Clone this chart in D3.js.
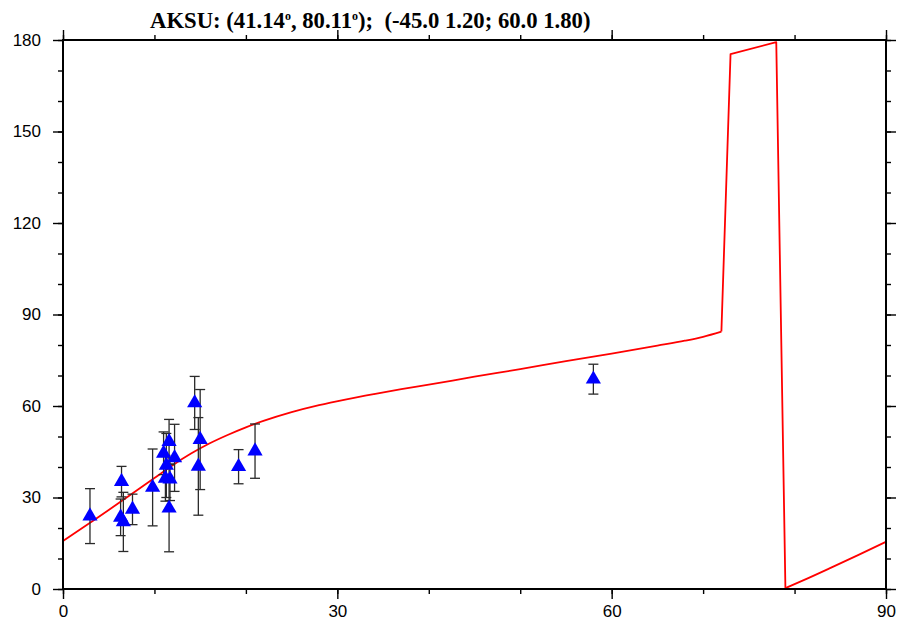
<!DOCTYPE html>
<html>
<head>
<meta charset="utf-8">
<script src="https://cdn.jsdelivr.net/npm/d3@7/dist/d3.min.js"></script>
<style>
  html, body { margin: 0; padding: 0; background: #fff; }
  svg { display: block; }
</style>
</head>
<body>
<svg id="chart" width="899" height="628"></svg>
<script>
// ---- Data ----
const titleStation = "AKSU";
const titleLat = "41.14";
const titleLon = "80.11";
const titleModel = "(-45.0 1.20; 60.0 1.80)";

// observed measurements: back-azimuth, fast direction, error
const obsBaz = [2.95, 6.4, 6.3, 6.6, 7.6, 9.8, 11.0, 11.6, 12.2, 11.3, 11.2, 11.7, 11.6, 14.4, 15.0, 14.8, 19.2, 21.0, 58.0];
const obsPhi = [23.9, 35.2, 23.5, 22.0, 26.1, 33.3, 44.5, 48.3, 43.0, 40.5, 36.3, 36.0, 26.5, 61.0, 49.0, 40.2, 40.1, 45.2, 68.8];
const obsErr = [9.0, 5.0, 6.0, 9.7, 5.0, 12.6, 7.0, 7.3, 11.0, 10.5, 7.5, 7.0, 14.3, 8.7, 16.4, 16.0, 5.6, 8.9, 4.9];

// two-layer model prediction curve
const modelBaz = [0, 3, 5, 7, 10, 12, 14, 16, 18, 20, 22, 25, 28, 31, 34, 37, 40, 45, 50, 55, 60, 65, 68, 70, 72, 73, 78, 79, 81, 84, 87, 90];
const modelPhi = [15.7, 21.8, 25.9, 30.1, 36.4, 40.6, 44.4, 47.7, 50.5, 53.0, 55.2, 58.0, 60.3, 62.2, 63.9, 65.5, 67.0, 69.6, 72.1, 74.7, 77.2, 79.8, 81.4, 82.7, 84.4, 175.4, 179.3, 0.3, 2.9, 7.0, 11.2, 15.5];

// axes
const xDomain = [0, 90];
const yDomain = [0, 180];
const xMajorTicks = [0, 30, 60, 90];
const yMajorTicks = [0, 30, 60, 90, 120, 150, 180];
const xMinorTicks = [0, 10, 20, 30, 40, 50, 60, 70, 80, 90];
const yMinorTicks = [0, 10, 20, 30, 40, 50, 60, 70, 80, 90, 100, 110, 120, 130, 140, 150, 160, 170, 180];

// ---- Layout ----
const svg = d3.select("#chart");
const mLeft = 63, mRight = 886, mTop = 40, mBottom = 589;
const x = d3.scaleLinear().domain(xDomain).range([mLeft, mRight]);
const y = d3.scaleLinear().domain(yDomain).range([mBottom, mTop]);

const labelFont = "'Liberation Sans', Arial, Helvetica, sans-serif";

// Title
const title = svg.append("text")
  .attr("x", 150).attr("y", 28)
  .attr("font-family", "'Liberation Serif', 'Times New Roman', serif")
  .attr("font-weight", "bold")
  .attr("font-size", 22.7)
  .attr("fill", "#000");
title.append("tspan").text(`${titleStation}: (${titleLat}`);
title.append("tspan").attr("font-size", 12).attr("dy", -8).text("o");
title.append("tspan").attr("dy", 8).text(`, ${titleLon}`);
title.append("tspan").attr("font-size", 12).attr("dy", -8).text("o");
title.append("tspan").attr("dy", 8).text(`);\u00a0 ${titleModel}`);

// Model curve: smooth branches joined by straight jumps
const pts = modelBaz.map((b, i) => [x(b), y(modelPhi[i])]);
const iJump1 = modelBaz.indexOf(72), iJump2 = modelBaz.indexOf(79);
const smooth = d3.line().curve(d3.curveMonotoneX);
const straight = d3.line();
const curveG = svg.append("g").attr("fill", "none").attr("stroke", "#ff0000")
  .attr("stroke-width", 1.8).attr("stroke-linejoin", "round");
curveG.append("path").attr("d", smooth(pts.slice(0, iJump1 + 1)));
curveG.append("path").attr("d", straight(pts.slice(iJump1, iJump2 + 1)));
curveG.append("path").attr("d", smooth(pts.slice(iJump2)));

// Error bars
const obs = obsBaz.map((b, i) => ({ b, p: obsPhi[i], e: obsErr[i] }));
const eb = svg.append("g").attr("stroke", "#2a2a2a").attr("stroke-width", 1.3).attr("fill", "none");
obs.forEach(d => {
  const cx = x(d.b), y1 = y(d.p + d.e), y2 = y(d.p - d.e);
  eb.append("line").attr("x1", cx).attr("x2", cx).attr("y1", y1).attr("y2", y2);
  eb.append("line").attr("x1", cx - 5).attr("x2", cx + 5).attr("y1", y1).attr("y2", y1);
  eb.append("line").attr("x1", cx - 5).attr("x2", cx + 5).attr("y1", y2).attr("y2", y2);
});

// Triangles
const tri = d3.symbol().type(d3.symbolTriangle).size(100);
svg.append("g").selectAll("path").data(obs).join("path")
  .attr("d", tri)
  .attr("transform", d => `translate(${x(d.b)},${y(d.p)})`)
  .attr("fill", "#0000ff");

// Axes
function styleAxis(g) {
  g.select(".domain").remove();
  g.selectAll(".tick line").attr("stroke", "#000").attr("stroke-width", 1.4);
  g.selectAll(".tick text").attr("font-family", labelFont).attr("font-size", 17).attr("fill", "#000");
}
// bottom
svg.append("g").attr("transform", `translate(0,${mBottom})`)
  .call(d3.axisBottom(x).tickValues(xMinorTicks).tickSize(5).tickFormat(""))
  .call(styleAxis);
svg.append("g").attr("transform", `translate(0,${mBottom})`)
  .call(d3.axisBottom(x).tickValues(xMajorTicks).tickSize(10).tickPadding(6).tickFormat(d3.format("d")))
  .call(styleAxis);
// top
svg.append("g").attr("transform", `translate(0,${mTop})`)
  .call(d3.axisTop(x).tickValues(xMinorTicks).tickSize(5).tickFormat(""))
  .call(styleAxis);
svg.append("g").attr("transform", `translate(0,${mTop})`)
  .call(d3.axisTop(x).tickValues(xMajorTicks).tickSize(10).tickFormat(""))
  .call(styleAxis);
// left
svg.append("g").attr("transform", `translate(${mLeft},0)`)
  .call(d3.axisLeft(y).tickValues(yMinorTicks).tickSize(5).tickFormat(""))
  .call(styleAxis);
svg.append("g").attr("transform", `translate(${mLeft},0)`)
  .call(d3.axisLeft(y).tickValues(yMajorTicks).tickSize(10).tickPadding(12).tickFormat(d3.format("d")))
  .call(styleAxis);
// right
svg.append("g").attr("transform", `translate(${mRight},0)`)
  .call(d3.axisRight(y).tickValues(yMinorTicks).tickSize(5).tickFormat(""))
  .call(styleAxis);
svg.append("g").attr("transform", `translate(${mRight},0)`)
  .call(d3.axisRight(y).tickValues(yMajorTicks).tickSize(10).tickFormat(""))
  .call(styleAxis);

// Frame
svg.append("rect")
  .attr("x", mLeft).attr("y", mTop)
  .attr("width", mRight - mLeft).attr("height", mBottom - mTop)
  .attr("fill", "none").attr("stroke", "#000").attr("stroke-width", 2);
</script>
</body>
</html>
